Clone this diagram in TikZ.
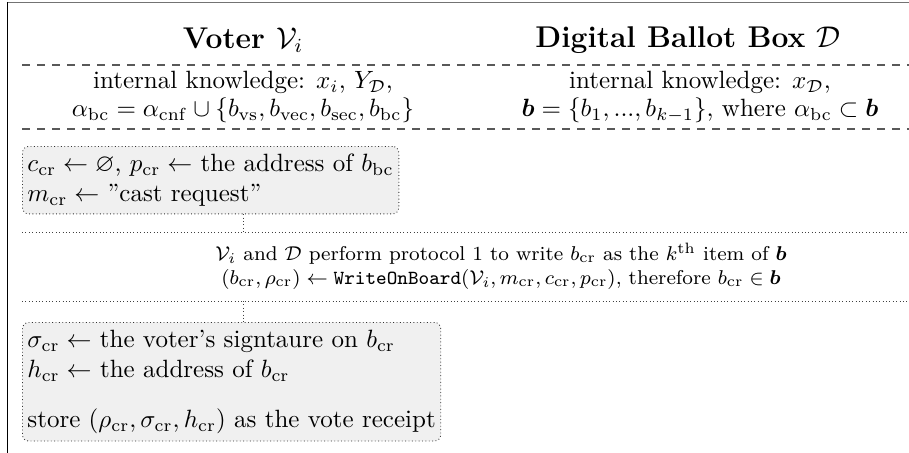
\documentclass[tikz,border=0pt]{standalone}
\usepackage{amsmath,amssymb}
\newcommand{\cre}{\mathrm{cr}}
\begin{document}
\begin{tikzpicture}[x=0.4pt,y=-0.4pt,
  frameline/.style={line width=0.6pt},
  sepline/.style={dashed, draw=black!65, line width=0.45pt},
  dotline/.style={densely dotted, draw=black!75, line width=0.35pt},
  stepbox/.style={draw=black!80, densely dotted, line width=0.35pt, fill=black!6,
    rounded corners=2.5pt, align=left, inner xsep=2pt, inner ysep=3pt, anchor=north west},
  headtext/.style={font=\large\bfseries},
  infotext/.style={align=center, font=\fontsize{10}{11}\selectfont},
  prototext/.style={align=center, font=\footnotesize}
]
\useasboundingbox (0,0) rectangle (909,453);

% outer frame (top and left edges)
\draw[frameline, draw=black!55] (7,2.5) -- (909,2.5);
\draw[frameline, draw=black] (7.5,2) -- (7.5,453);

% column headings
\node[headtext] (hv) at (243,40) {Voter $\mathcal{V}_i$};
\node[headtext] (hd) at (688,40) {Digital Ballot Box $\mathcal{D}$};

\coordinate (d1a) at (22,65);  \coordinate (d1b) at (909,65);
\draw[sepline] (d1a) -- (d1b);

% internal knowledge of each party
\node[infotext] (kv) at (243,97)
  {internal knowledge: $x_i$, $Y_{\mathcal{D}}$,\\
   $\alpha_{\mathrm{bc}} = \alpha_{\mathrm{cnf}} \cup \{b_{\mathrm{vs}}, b_{\mathrm{vec}}, b_{\mathrm{sec}}, b_{\mathrm{bc}}\}$};
\node[infotext] (kd) at (700,97)
  {internal knowledge: $x_{\mathcal{D}}$,\\
   $\boldsymbol{b} = \{b_1, ..., b_{k-1}\}$, where $\alpha_{\mathrm{bc}} \subset \boldsymbol{b}$};

\coordinate (d2a) at (22,129);  \coordinate (d2b) at (909,129);
\draw[sepline] (d2a) -- (d2b);

% voter prepares the cast request
\node[stepbox] (b1) at (22,146)
  {$c_{\cre} \leftarrow \varnothing$, $p_{\cre} \leftarrow$ the address of $b_{\mathrm{bc}}$\\
   $m_{\cre} \leftarrow$ ''cast request''};

% joint protocol step
\coordinate (p1a) at (22,232);  \coordinate (p1b) at (909,232);
\coordinate (p2a) at (22,301);  \coordinate (p2b) at (909,301);
\draw[dotline] (p1a) -- (p1b);
\draw[dotline] (p2a) -- (p2b);
\node[prototext] (pr) at (501,266)
  {$\mathcal{V}_i$ and $\mathcal{D}$ perform protocol 1 to write $b_{\cre}$ as the $k^{\mathrm{th}}$ item of $\boldsymbol{b}$\\
   $(b_{\cre}, \rho_{\cre}) \leftarrow \texttt{WriteOnBoard}(\mathcal{V}_i, m_{\cre}, c_{\cre}, p_{\cre})$, therefore $b_{\cre} \in \boldsymbol{b}$};

% voter builds the receipt
\node[stepbox] (b2) at (22,322)
  {$\sigma_{\cre} \leftarrow$ the voter’s signtaure on $b_{\cre}$\\
   $h_{\cre} \leftarrow$ the address of $b_{\cre}$\\[8pt]
   store $(\rho_{\cre}, \sigma_{\cre}, h_{\cre})$ as the vote receipt};

% connectors between the steps
\coordinate (c1) at (243,232);
\coordinate (c2) at (243,301);
\draw[dotline] (c1 |- b1.south) -- (c1);
\draw[dotline] (c2) -- (c2 |- b2.north);
\end{tikzpicture}
\end{document}
